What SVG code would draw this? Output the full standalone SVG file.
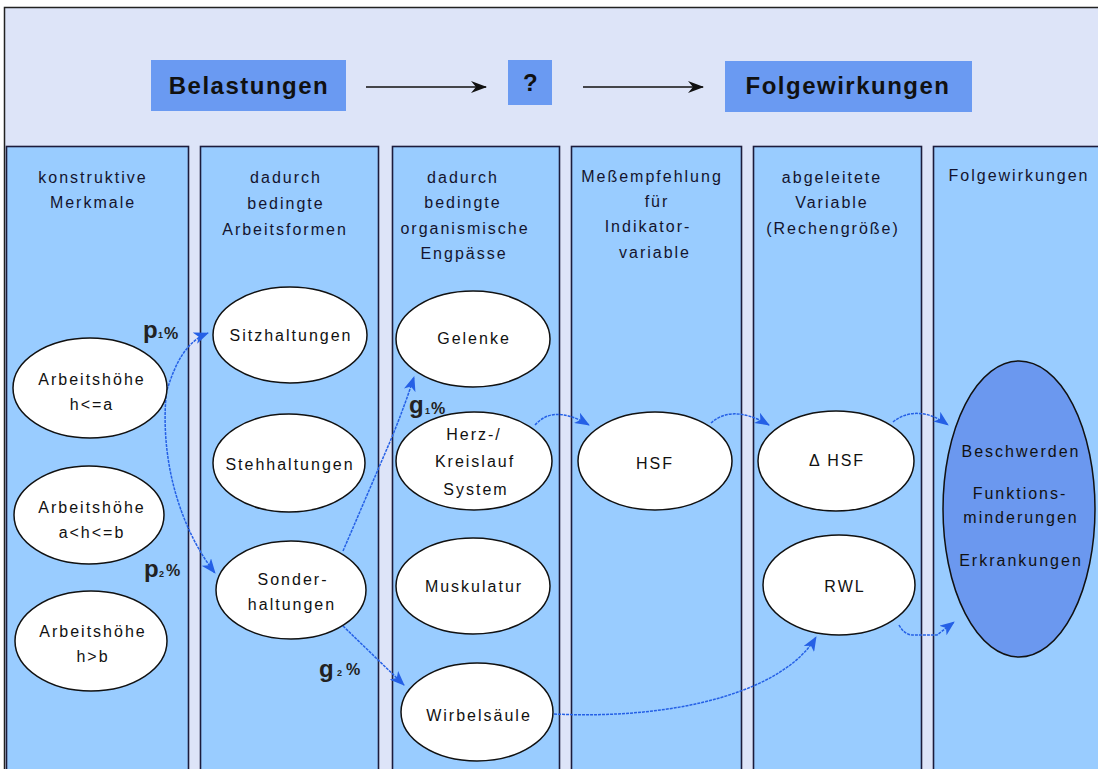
<svg xmlns="http://www.w3.org/2000/svg" width="1098" height="769" viewBox="0 0 1098 769">
<defs>
<style>
.col{fill:#99ccff;stroke:#1c1c3c;stroke-width:1.6}
.hd{font-family:"Liberation Sans",Arial,sans-serif;font-size:16px;letter-spacing:2px;fill:#14142e;text-anchor:middle}
.el{fill:#ffffff;stroke:#111;stroke-width:1.5}
.et{font-family:"Liberation Sans",Arial,sans-serif;font-size:16px;letter-spacing:2px;fill:#111;text-anchor:middle}
.tb{fill:#6a9af2}
.tt{font-family:"Liberation Sans",Arial,sans-serif;font-size:24px;font-weight:bold;letter-spacing:1.5px;fill:#111;text-anchor:middle}
.conn{fill:none;stroke:#2560e6;stroke-width:1.5;stroke-dasharray:3 1}
.blk{fill:none;stroke:#111;stroke-width:1.6}
.lb{font-family:"Liberation Sans",Arial,sans-serif;font-weight:bold;fill:#222}
</style>
<marker id="ab" markerUnits="userSpaceOnUse" viewBox="0 0 15 12" refX="14" refY="6" markerWidth="15" markerHeight="12" orient="auto">
<path d="M0,0 L15,6 L0,12 L4,6 z" fill="#2560e6"/>
</marker>
<marker id="ak" markerUnits="userSpaceOnUse" viewBox="0 0 16 12" refX="15" refY="6" markerWidth="16" markerHeight="12" orient="auto">
<path d="M0,0 L16,6 L0,12 L5,6 z" fill="#111"/>
</marker>
</defs>
<rect x="0" y="0" width="1098" height="769" fill="#ffffff"/>
<rect x="5" y="8" width="1093" height="761" fill="#dde4f8"/>
<path d="M4.5,769 V7.5 H1098" fill="none" stroke="#222" stroke-width="1.5"/>

<g id="title">
<g id="belastungen"><rect class="tb" x="151" y="60" width="195" height="51"/><text class="tt" x="249" y="94">Belastungen</text></g>
<g id="frage"><rect class="tb" x="508" y="60" width="44" height="45"/><text class="tt" x="531" y="91">?</text></g>
<g id="folgewirkungen-top"><rect class="tb" x="725" y="61" width="247" height="51"/><text class="tt" x="848" y="94">Folgewirkungen</text></g>
</g>

<g id="columns">
<g id="col1"><rect class="col" x="6.5" y="146.5" width="182" height="640"/>
<text class="hd" x="93" y="183">konstruktive</text><text class="hd" x="93" y="208">Merkmale</text></g>
<g id="col2"><rect class="col" x="200.5" y="146.5" width="178" height="640"/>
<text class="hd" x="286" y="183">dadurch</text><text class="hd" x="286" y="209">bedingte</text><text class="hd" x="285" y="235">Arbeitsformen</text></g>
<g id="col3"><rect class="col" x="392.5" y="146.5" width="167" height="640"/>
<text class="hd" x="463" y="183">dadurch</text><text class="hd" x="463" y="208">bedingte</text><text class="hd" x="465" y="234">organismische</text><text class="hd" x="464" y="259">Engpässe</text></g>
<g id="col4"><rect class="col" x="571.5" y="146.5" width="170" height="640"/>
<text class="hd" x="652" y="182">Meßempfehlung</text><text class="hd" x="657" y="207">für</text><text class="hd" x="648" y="232">Indikator-</text><text class="hd" x="655" y="258">variable</text></g>
<g id="col5"><rect class="col" x="753.5" y="146.5" width="168" height="640"/>
<text class="hd" x="832" y="183">abgeleitete</text><text class="hd" x="832" y="208">Variable</text><text class="hd" x="833" y="234">(Rechengröße)</text></g>
<g id="col6"><rect class="col" x="933.5" y="146.5" width="180" height="640"/>
<text class="hd" x="1019" y="181">Folgewirkungen</text></g>
</g>

<g id="connectors">
<line class="blk" x1="366" y1="87" x2="486" y2="87" marker-end="url(#ak)"/>
<line class="blk" x1="583" y1="87" x2="703" y2="87" marker-end="url(#ak)"/>
<path class="conn" d="M167,390 C175,365 185,342 208,333" marker-end="url(#ab)"/>
<path class="conn" d="M166,396 C160,470 185,535 215,573" marker-end="url(#ab)"/>
<path class="conn" d="M343,551 L392,437 Q405,405 414,377" marker-end="url(#ab)"/>
<path class="conn" d="M343,626 L404,685" marker-end="url(#ab)"/>
<path class="conn" d="M535,425 C545,414 560,408 589,425" marker-end="url(#ab)"/>
<path class="conn" d="M711,423 C722,413 740,408 769,425" marker-end="url(#ab)"/>
<path class="conn" d="M893,422 C905,412 925,408 948,425" marker-end="url(#ab)"/>
<path class="conn" d="M899,625 Q905,636 915,635 L937,635 L954,622" marker-end="url(#ab)"/>
<path class="conn" d="M554,714 C680,720 785,690 816,637" marker-end="url(#ab)"/>
</g>

<g id="labels">
<g id="p1"><text class="lb" x="143" y="338" font-size="24">p</text><text class="lb" x="158" y="338" font-size="9">1</text><text class="lb" x="164" y="339" font-size="16">%</text></g>
<g id="p2"><text class="lb" x="144" y="577" font-size="24">p</text><text class="lb" x="159" y="577" font-size="9">2</text><text class="lb" x="166" y="576" font-size="16">%</text></g>
<g id="g1"><text class="lb" x="409" y="413" font-size="24">g</text><text class="lb" x="425" y="414" font-size="9">1</text><text class="lb" x="431" y="414" font-size="16">%</text></g>
<g id="g2"><text class="lb" x="319" y="677" font-size="24">g</text><text class="lb" x="337" y="676" font-size="9">2</text><text class="lb" x="346" y="675" font-size="16">%</text></g>
</g>

<g id="n-h1"><ellipse class="el" cx="90" cy="388" rx="77" ry="50"/><text class="et" x="92" y="385">Arbeitshöhe</text><text class="et" x="92" y="410">h&lt;=a</text></g>
<g id="n-h2"><ellipse class="el" cx="89" cy="515" rx="75" ry="49"/><text class="et" x="92" y="513">Arbeitshöhe</text><text class="et" x="92" y="538">a&lt;h&lt;=b</text></g>
<g id="n-h3"><ellipse class="el" cx="91" cy="641" rx="76" ry="50"/><text class="et" x="93" y="637">Arbeitshöhe</text><text class="et" x="93" y="662">h&gt;b</text></g>
<g id="n-sitz"><ellipse class="el" cx="290" cy="335" rx="77" ry="48"/><text class="et" x="291" y="341">Sitzhaltungen</text></g>
<g id="n-steh"><ellipse class="el" cx="289" cy="463" rx="76" ry="49"/><text class="et" x="290" y="470">Stehhaltungen</text></g>
<g id="n-sonder"><ellipse class="el" cx="291" cy="590" rx="75" ry="49"/><text class="et" x="293" y="585">Sonder-</text><text class="et" x="292" y="610">haltungen</text></g>
<g id="n-gelenke"><ellipse class="el" cx="473" cy="339" rx="77" ry="48"/><text class="et" x="474" y="344">Gelenke</text></g>
<g id="n-herz"><ellipse class="el" cx="474" cy="461" rx="78" ry="49"/><text class="et" x="474" y="440">Herz-/</text><text class="et" x="475" y="467">Kreislauf</text><text class="et" x="476" y="495">System</text></g>
<g id="n-musk"><ellipse class="el" cx="473" cy="586" rx="77" ry="48"/><text class="et" x="474" y="592">Muskulatur</text></g>
<g id="n-wirbel"><ellipse class="el" cx="477" cy="712" rx="76" ry="49"/><text class="et" x="479" y="721">Wirbelsäule</text></g>
<g id="n-hsf"><ellipse class="el" cx="655" cy="461" rx="77" ry="49"/><text class="et" x="655" y="469">HSF</text></g>
<g id="n-dhsf"><ellipse class="el" cx="836" cy="461" rx="78" ry="50"/><text class="et" x="837" y="466">Δ HSF</text></g>
<g id="n-rwl"><ellipse class="el" cx="839" cy="585" rx="76" ry="50"/><text class="et" x="845" y="592">RWL</text></g>
<g id="n-folgen"><ellipse cx="1019" cy="509" rx="76" ry="148" fill="#6b98ef" stroke="#111" stroke-width="1.5"/>
<text class="et" x="1021" y="457">Beschwerden</text><text class="et" x="1020" y="499">Funktions-</text><text class="et" x="1021" y="523">minderungen</text><text class="et" x="1021" y="566">Erkrankungen</text></g>
</svg>
